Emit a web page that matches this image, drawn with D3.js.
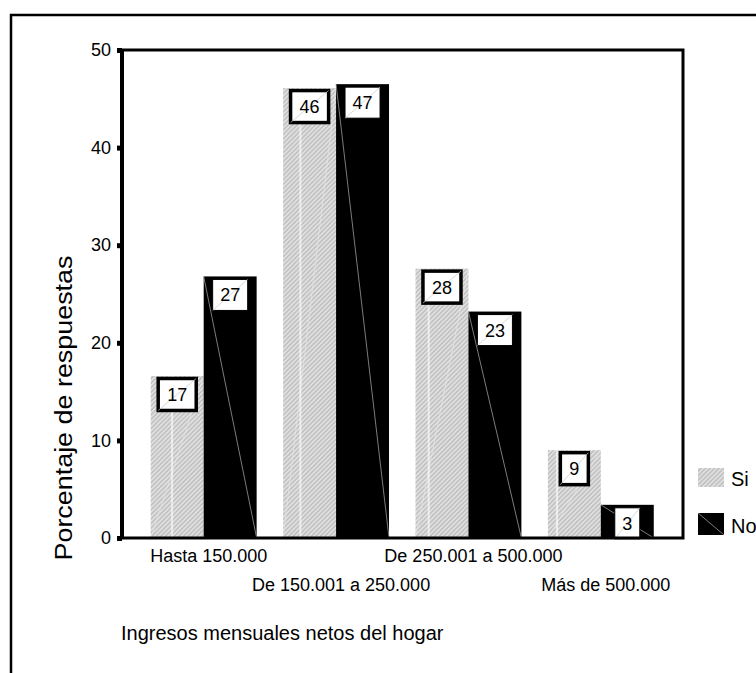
<!DOCTYPE html>
<html>
<head>
<meta charset="utf-8">
<script src="https://cdn.jsdelivr.net/npm/d3@7"></script>
<style>
  body { margin: 0; background: #fff; }
  text { font-family: "Liberation Sans", Arial, sans-serif; fill: #000; }
</style>
</head>
<body>
<div id="chart"></div>
<script>
// Categories and values.
var categories = ["Hasta 150.000", "De 150.001 a 250.000", "De 250.001 a 500.000", "Más de 500.000"];
var seriesNames = ["Si", "No"];
var siValues = [16.6, 46.1, 27.6, 9.0];
var noValues = [26.8, 46.5, 23.2, 3.4];
var yTicks = [0, 10, 20, 30, 40, 50];

var width = 756;
var height = 673;
var plotLeft = 122, plotRight = 683, plotTop = 50, plotBottom = 538;

var svg = d3.select("#chart")
  .append("svg")
  .attr("width", width)
  .attr("height", height);

// Patterns for the grey hatched bars.
var defs = svg.append("defs");
var hatch = defs.append("pattern")
  .attr("id", "hatch")
  .attr("patternUnits", "userSpaceOnUse")
  .attr("width", 3.2)
  .attr("height", 3.2)
  .attr("patternTransform", "rotate(45)");
hatch.append("rect").attr("width", 3.2).attr("height", 3.2).attr("fill", "#c2c2c2");
hatch.append("rect").attr("width", 1.4).attr("height", 3.2).attr("fill", "#e4e4e4");

var seam = defs.append("pattern")
  .attr("id", "seam")
  .attr("patternUnits", "userSpaceOnUse")
  .attr("width", 128.3)
  .attr("height", 700);
seam.append("rect").attr("x", 43.2).attr("width", 1.2).attr("height", 700).attr("fill", "#fff");

// Outer frame.
svg.append("path")
  .attr("d", "M11," + height + " L11,15 L" + (width + 10) + ",15")
  .attr("fill", "none")
  .attr("stroke", "#000")
  .attr("stroke-width", 2.5);

// Scales.
var y = d3.scaleLinear().domain([0, 50]).range([plotBottom, plotTop]);
var x0 = d3.scaleBand().domain(categories).range([137.5, 667]).paddingInner(0.2).paddingOuter(0.1);
var x1 = d3.scaleBand().domain(seriesNames).range([0, x0.bandwidth()]);

var rows = categories.map(function(c, i) {
  return { cat: c, values: [
    { key: "Si", value: siValues[i] },
    { key: "No", value: noValues[i] }
  ] };
});

// Bars.
var groups = svg.append("g").selectAll("g")
  .data(rows)
  .enter().append("g")
  .attr("transform", function(d) { return "translate(" + x0(d.cat) + ",0)"; });

var bars = groups.selectAll("g.bar")
  .data(function(d) { return d.values; })
  .enter().append("g")
  .attr("class", "bar");

bars.each(function(d) {
  var g = d3.select(this);
  var bx = x1(d.key), bw = x1.bandwidth();
  var by = y(d.value), bh = plotBottom - by;
  if (d.key === "Si") {
    g.append("rect").attr("x", bx).attr("y", by).attr("width", bw).attr("height", bh).attr("fill", "url(#hatch)");
    g.append("line")
      .attr("x1", bx + bw).attr("y1", by).attr("x2", bx).attr("y2", plotBottom)
      .attr("stroke", "#e4e4e4").attr("stroke-width", 0.8);
  } else {
    g.append("rect").attr("x", bx).attr("y", by).attr("width", bw).attr("height", bh).attr("fill", "#000");
    g.append("line")
      .attr("x1", bx).attr("y1", by).attr("x2", bx + bw).attr("y2", plotBottom)
      .attr("stroke", "#9a9a9a").attr("stroke-width", 0.8);
  }
});

// White seams over the grey bars.
svg.append("g").selectAll("rect")
  .data(rows)
  .enter().append("rect")
  .attr("x", function(d) { return x0(d.cat) + x1("Si"); })
  .attr("y", function(d) { return y(d.values[0].value); })
  .attr("width", x1.bandwidth())
  .attr("height", function(d) { return plotBottom - y(d.values[0].value); })
  .attr("fill", "url(#seam)");

// Value label boxes.
var labels = svg.append("g");
rows.forEach(function(r) {
  r.values.forEach(function(d) {
    var cx = x0(r.cat) + x1(d.key) + x1.bandwidth() / 2;
    var by = y(d.value);
    var g = labels.append("g");
    var rect = g.append("rect");
    var diag = g.append("line");
    var t = g.append("text")
      .attr("x", cx)
      .attr("text-anchor", "middle")
      .style("font-size", "18px")
      .text(Math.round(d.value));
    var tw = t.node().getComputedTextLength();
    var isSi = d.key === "Si";
    var bw = tw + (isSi ? 18 : 15);
    var bh = isSi ? 32 : 31;
    var top0 = by + (isSi ? 2.5 : 3);
    rect.attr("x", cx - bw / 2).attr("y", top0).attr("width", bw).attr("height", bh)
      .attr("fill", "#fff").attr("stroke", "#000").attr("stroke-width", isSi ? 3.5 : 1);
    diag.attr("x1", cx - bw / 2).attr("y1", top0 + bh).attr("x2", cx + bw / 2).attr("y2", top0)
      .attr("stroke", "#c8c8c8").attr("stroke-width", 0.7);
    t.attr("y", top0 + bh / 2 + 6.5);
  });
});

// Plot frame.
svg.append("path")
  .attr("d", "M" + plotLeft + "," + plotBottom + " L" + plotLeft + "," + plotTop)
  .attr("stroke", "#000").attr("stroke-width", 4).attr("fill", "none");
svg.append("path")
  .attr("d", "M" + plotLeft + "," + plotTop + " L" + plotRight + "," + plotTop + " L" + plotRight + "," + plotBottom + " L" + (plotLeft - 4) + "," + plotBottom)
  .attr("stroke", "#000").attr("stroke-width", 3).attr("fill", "none");

// Y axis.
var yAxis = svg.append("g")
  .attr("transform", "translate(" + plotLeft + ",0)")
  .call(d3.axisLeft(y).tickValues(yTicks).tickSize(5).tickPadding(6));
yAxis.select(".domain").remove();
yAxis.selectAll(".tick line").attr("stroke", "#000").attr("stroke-width", 5);
yAxis.selectAll(".tick text").style("font-size", "18px").attr("font-family", null);

// X axis labels in two rows.
var xAxis = svg.append("g")
  .attr("transform", "translate(0," + plotBottom + ")")
  .call(d3.axisBottom(x0).tickSize(0));
xAxis.select(".domain").remove();
xAxis.selectAll(".tick text")
  .style("font-size", "18px")
  .attr("font-family", null)
  .attr("dy", null)
  .attr("x", 5)
  .attr("y", function(d, i) { return i % 2 === 0 ? 24 : 53; });

// Axis titles.
svg.append("text")
  .attr("transform", "translate(72,408) rotate(-90)")
  .attr("text-anchor", "middle")
  .attr("textLength", 305)
  .attr("lengthAdjust", "spacingAndGlyphs")
  .style("font-size", "23px")
  .text("Porcentaje de respuestas");

svg.append("text")
  .attr("x", 121)
  .attr("y", 640)
  .style("font-size", "20px")
  .text("Ingresos mensuales netos del hogar");

// Legend.
var legend = svg.append("g").selectAll("g")
  .data(seriesNames)
  .enter().append("g")
  .attr("transform", function(d, i) { return "translate(698," + (468 + i * 45) + ")"; });
legend.append("rect")
  .attr("width", 26).attr("height", function(d, i) { return i === 0 ? 19 : 22; })
  .attr("fill", function(d) { return d === "Si" ? "url(#hatch)" : "#000"; });
legend.filter(function(d) { return d === "No"; }).append("line")
  .attr("x1", 0).attr("y1", 0).attr("x2", 26).attr("y2", 22)
  .attr("stroke", "#9a9a9a").attr("stroke-width", 0.8);
legend.append("text")
  .attr("x", 33)
  .attr("y", function(d, i) { return i === 0 ? 18 : 20; })
  .style("font-size", "20px")
  .text(function(d) { return d; });
</script>
</body>
</html>
